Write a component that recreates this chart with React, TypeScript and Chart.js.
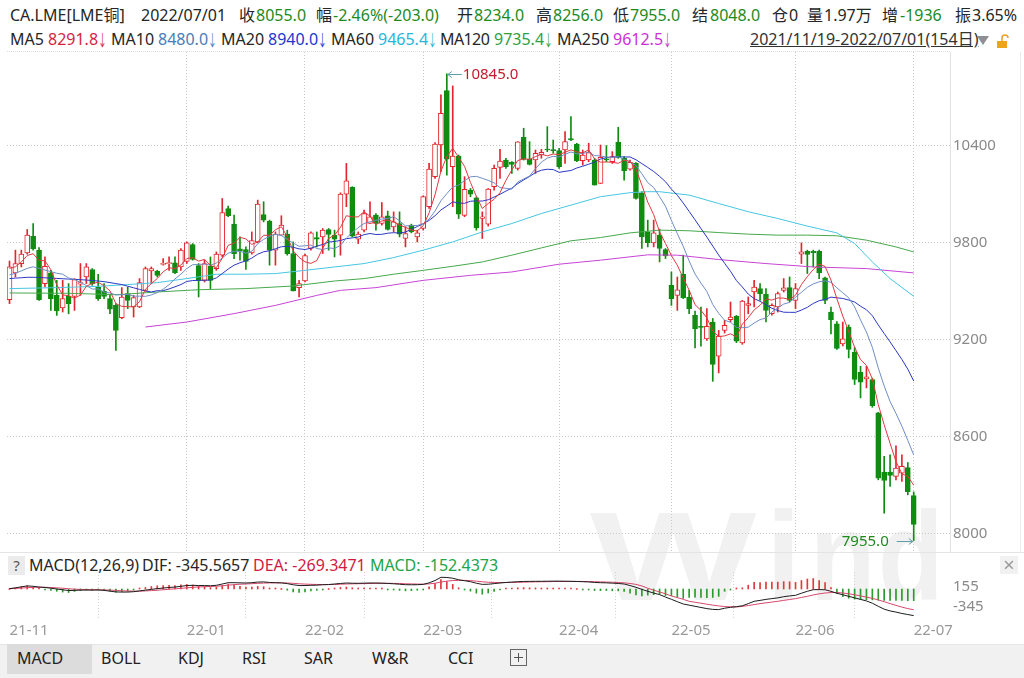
import React, { useEffect, useRef } from "react";
import { Chart, registerables } from "chart.js";
Chart.register(...registerables);

const FONT = '"Noto Sans", "Noto Sans CJK SC", sans-serif';

// ---- candle data (154 trading days, 2021/11/19 - 2022/07/01) ----
const opens = [9446,9612,9670,9736,9839,9753,9546,9612,9473,9395,9469,9467,9542,9587,9633,9525,9498,9453,9411,9335,9484,9401,9401,9504,9624,9624,9665,9670,9674,9649,9684,9788,9657,9566,9653,9639,9722,10011,9914,9761,9757,9736,9804,9974,9933,9753,9846,9852,9732,9521,9562,9763,9831,9835,9881,9846,9846,10100,10142,9821,9877,9918,9970,9918,9966,9897,9918,9825,9908,9835,9887,10022,10208,10404,10741,10270,10336,9968,10125,10077,9949,9914,10146,10266,10311,10297,10259,10452,10317,10311,10342,10377,10373,10369,10373,10444,10410,10307,10311,10311,10166,10319,10301,10421,10322,10255,10290,10108,9866,9798,9846,9757,9535,9473,9604,9463,9349,9281,9204,9308,9096,9256,9322,9343,9179,9411,9494,9515,9480,9359,9401,9504,9521,9442,9728,9746,9746,9746,9581,9370,9297,9173,9277,9121,8997,8956,8952,8745,8379,8379,8352,8372,8407,8234];
const highs = [9686,9753,9753,9881,9918,9769,9711,9628,9566,9566,9546,9577,9670,9670,9639,9604,9546,9473,9422,9521,9525,9473,9577,9649,9649,9628,9701,9711,9711,9763,9804,9794,9670,9691,9711,9742,10073,10026,9970,9835,9773,9866,10063,10053,9939,9866,9966,9877,9804,9566,9728,9866,9866,9887,9887,9877,10108,10290,10146,9866,10001,10053,9980,10048,9995,9990,9990,9897,9914,9877,10090,10290,10419,10715,10845,10770,10342,10208,10135,10084,9990,10135,10280,10377,10322,10301,10425,10508,10425,10373,10377,10518,10435,10384,10487,10580,10415,10373,10415,10322,10404,10400,10363,10514,10332,10311,10295,10115,9939,9939,9883,9763,9618,9587,9722,9504,9376,9401,9391,9330,9256,9318,9432,9349,9442,9463,9566,9546,9515,9420,9494,9577,9587,9546,9798,9753,9753,9753,9587,9401,9310,9308,9290,9150,9034,9034,8960,8749,8476,8486,8542,8486,8438,8256];
const lows = [9422,9587,9649,9728,9753,9442,9525,9380,9349,9370,9359,9380,9473,9546,9535,9442,9453,9359,9132,9328,9391,9339,9397,9500,9546,9587,9660,9628,9608,9628,9670,9691,9463,9556,9515,9628,9711,9960,9701,9691,9633,9728,9798,9928,9660,9660,9846,9722,9500,9463,9556,9753,9773,9732,9753,9711,9722,10022,9835,9794,9866,9918,9877,9908,9877,9866,9835,9773,9860,9804,9877,10011,10197,10239,10218,10022,9949,9960,10084,9877,9825,9902,10125,10197,10259,10228,10249,10311,10280,10228,10322,10363,10353,10259,10290,10431,10301,10280,10301,10156,10166,10301,10290,10322,10187,10249,10069,9763,9773,9773,9680,9701,9411,9380,9453,9359,9148,9159,9194,8941,8993,9240,9308,9180,9170,9359,9401,9442,9308,9350,9370,9494,9432,9391,9670,9608,9649,9577,9422,9235,9138,9160,9086,8921,8838,8900,8780,8331,8124,8290,8331,8321,8238,7955];
const closes = [9649,9670,9728,9846,9761,9446,9653,9453,9376,9453,9422,9571,9552,9649,9546,9453,9467,9388,9256,9463,9442,9459,9552,9639,9639,9597,9670,9674,9612,9753,9798,9695,9566,9670,9566,9728,9986,9966,9732,9749,9684,9813,10038,9939,9753,9852,9908,9732,9500,9546,9719,9860,9821,9877,9850,9821,10100,10183,9839,9852,9980,9960,9918,9960,9881,9928,9852,9856,9866,9860,10084,10255,10410,10601,10317,10336,9976,10129,10100,9891,9960,10131,10259,10305,10270,10284,10423,10315,10284,10353,10359,10373,10369,10270,10425,10435,10307,10342,10357,10156,10328,10311,10332,10328,10245,10297,10073,9835,9800,9860,9763,9718,9453,9508,9459,9391,9266,9275,9281,9045,9221,9287,9339,9190,9438,9422,9525,9484,9380,9411,9484,9519,9442,9515,9742,9726,9738,9612,9442,9322,9145,9204,9138,8952,8935,8968,8790,8341,8327,8358,8403,8414,8258,8055];

// ---- moving averages ----
const ma5 = [9640,9650,9680,9720,9731,9690,9687,9632,9538,9476,9471,9455,9475,9529,9548,9554,9533,9501,9422,9405,9403,9402,9434,9511,9546,9577,9619,9644,9638,9661,9701,9706,9685,9696,9659,9645,9703,9783,9796,9832,9823,9789,9803,9845,9845,9879,9898,9837,9749,9708,9681,9671,9689,9765,9825,9846,9894,9966,9959,9959,9991,9963,9910,9934,9940,9929,9908,9895,9877,9872,9904,9984,10095,10242,10333,10384,10328,10272,10172,10086,10011,10042,10068,10109,10185,10250,10308,10319,10315,10332,10347,10337,10348,10345,10359,10374,10361,10356,10373,10319,10298,10299,10297,10291,10309,10303,10255,10156,10050,9973,9866,9795,9719,9660,9580,9506,9415,9380,9334,9252,9218,9222,9235,9216,9295,9335,9383,9412,9450,9444,9457,9456,9447,9474,9540,9589,9633,9667,9652,9568,9452,9345,9250,9152,9075,9039,8957,8797,8672,8557,8444,8369,8352,8298];
const ma10 = [9600,9610,9625,9640,9650,9640,9630,9620,9610,9604,9581,9571,9553,9534,9512,9513,9494,9488,9476,9477,9479,9468,9468,9467,9476,9490,9511,9539,9575,9604,9639,9663,9664,9667,9660,9673,9705,9734,9746,9746,9734,9746,9793,9820,9839,9851,9843,9820,9797,9777,9780,9785,9763,9757,9767,9763,9783,9828,9862,9892,9918,9928,9938,9946,9949,9960,9935,9903,9905,9906,9917,9946,9995,10059,10103,10144,10156,10183,10207,10210,10198,10185,10170,10140,10136,10131,10175,10194,10212,10258,10298,10323,10334,10330,10346,10361,10349,10352,10359,10339,10336,10330,10326,10332,10314,10300,10277,10226,10171,10141,10084,10025,9937,9855,9777,9686,9605,9549,9497,9416,9362,9319,9307,9275,9273,9276,9302,9323,9333,9370,9396,9419,9430,9462,9492,9523,9544,9557,9563,9554,9520,9489,9458,9402,9321,9246,9151,9024,8912,8816,8742,8663,8575,8485];
const ma20 = [9577,9580,9582,9585,9585,9584,9582,9580,9578,9576,9574,9572,9570,9568,9565,9562,9558,9552,9546,9540,9530,9520,9510,9500,9494,9502,9502,9513,9526,9540,9559,9565,9566,9567,9568,9581,9608,9636,9660,9675,9686,9704,9728,9743,9749,9762,9774,9777,9771,9761,9757,9765,9778,9788,9803,9807,9813,9824,9829,9834,9849,9856,9850,9851,9858,9861,9859,9865,9883,9899,9917,9937,9966,10002,10026,10052,10045,10043,10056,10058,10057,10065,10082,10099,10119,10137,10165,10188,10209,10234,10248,10254,10252,10235,10241,10246,10262,10273,10285,10298,10317,10326,10330,10331,10330,10330,10313,10289,10265,10240,10210,10177,10131,10093,10045,9993,9941,9887,9834,9778,9723,9672,9622,9565,9525,9481,9453,9436,9415,9393,9379,9369,9368,9368,9382,9399,9423,9440,9448,9462,9458,9454,9444,9432,9406,9384,9347,9290,9237,9185,9131,9076,9016,8943];
const ma60Idx = [0,8,15,20,25,30,35,40,45,50,55,60,65,70,75,80,85,90,95,100,105,108,110,115,120,125,130,135,140,143,146,149,153];
const ma60Val = [9515,9521,9529,9540,9552,9577,9604,9604,9608,9628,9649,9670,9707,9753,9804,9866,9918,9980,10032,10084,10109,10115,10115,10094,10042,9991,9949,9902,9860,9794,9680,9577,9467];
const ma120Idx = [0,10,18,25,32,40,48,55,60,65,70,75,80,85,90,95,100,105,110,115,120,125,130,135,140,145,150,153];
const ma120Val = [9488,9486,9477,9494,9508,9515,9531,9562,9577,9604,9628,9653,9680,9722,9767,9811,9831,9860,9877,9873,9862,9852,9846,9846,9842,9815,9773,9742];
const ma250Idx = [23,30,38,45,52,56,62,70,78,85,93,100,108,113,120,128,136,145,153];
const ma250Val = [9277,9308,9360,9411,9473,9504,9521,9566,9597,9618,9666,9691,9724,9722,9695,9670,9649,9639,9612];

// ---- MACD(12,26,9) ----
const dif = [5,15,28,40,35,25,20,10,0,-10,-20,-18,-15,-14,-15,-12,-18,-28,-38,-40,-40,-35,-25,-15,-5,5,12,20,25,35,45,48,45,45,42,48,65,82,82,80,78,82,90,92,85,82,80,70,55,45,45,48,50,55,58,65,72,78,75,74,76,78,78,76,72,68,62,56,55,56,60,80,110,152,150,140,120,108,95,75,60,62,70,78,85,90,95,98,99,100,100,101,102,102,101,100,98,95,92,85,82,80,76,72,65,45,22,-5,-30,-52,-73,-105,-134,-165,-195,-210,-225,-240,-255,-265,-268,-250,-238,-230,-218,-190,-160,-148,-135,-125,-115,-100,-90,-82,-55,-30,-9,-8,-10,-30,-55,-75,-95,-115,-135,-155,-185,-225,-262,-285,-300,-318,-332,-346];
const dea = [5,8,12,18,22,23,22,20,15,10,3,-2,-5,-7,-9,-10,-12,-14,-18,-23,-26,-28,-28,-25,-21,-16,-10,-4,2,8,15,22,27,30,33,36,42,50,57,62,65,69,73,77,79,80,80,78,74,68,64,61,59,58,58,59,62,65,67,69,70,72,73,74,74,73,71,68,66,64,63,66,75,90,102,110,112,112,109,102,94,88,85,84,84,85,87,89,91,93,94,95,97,98,98,98,98,98,97,95,93,90,88,84,80,72,60,40,10,-15,-39,-62,-91,-112,-134,-160,-172,-185,-198,-210,-220,-228,-232,-233,-226,-215,-203,-190,-180,-170,-160,-148,-137,-125,-110,-95,-77,-63,-52,-46,-45,-52,-62,-75,-90,-105,-122,-142,-165,-190,-213,-235,-255,-269];
const macdHist = [0,14,32,44,26,4,-4,-20,-30,-40,-46,-32,-20,-14,-12,-4,-12,-28,-40,-34,-28,-14,6,20,32,42,44,48,46,54,60,52,36,30,18,24,46,64,50,36,26,26,34,30,12,4,0,-16,-38,-46,-38,-26,-18,-6,0,12,20,26,16,10,12,12,10,4,-4,-10,-18,-24,-22,-16,-6,28,70,124,96,60,16,-8,-28,-54,-68,-52,-30,-12,2,10,16,18,16,14,12,12,10,8,6,4,0,-6,-10,-20,-22,-20,-24,-24,-30,-54,-76,-90,-80,-74,-68,-86,-86,-106,-122,-110,-106,-110,-114,-110,-96,-30,-10,6,16,50,86,84,90,90,90,96,94,86,110,130,136,110,84,20,-60,-100,-120,-130,-136,-140,-142,-145,-148,-150,-150,-150,-152,-152];

// ---- axes ----
const priceTicks = [8000, 8600, 9200, 9800, 10400];
const monthIdx = [30, 50, 70, 93, 112, 133, 153];
const axisTickIdx = [0, 30, 50, 70, 93, 112, 133, 153];
const axisTickLabels = ["21-11", "22-01", "22-02", "22-03", "22-04", "22-05", "22-06", "22-07"];
const macdTicks = [155, -345];

const UP = "#e3262e";
const DOWN = "#108c10";
const DARK = "#262626";
const GREEN = "#1d8a1d";
const X_MIN = -0.423;
const X_MAX = 159.14;
const IDX = closes.map((_, i) => i);

function lineDs(label: string, xs: number[], ys: number[], color: string) {
  return {
    type: "line" as const,
    label,
    data: xs.map((x, k) => ({ x, y: ys[k] })),
    borderColor: color,
    borderWidth: 1,
    pointRadius: 0,
    tension: 0,
    fill: false,
    order: -1,
  };
}

const noPad = (s: any) => {
  s.paddingTop = 0;
  s.paddingBottom = 0;
};

const markPlugin = {
  id: "hiLoMarks",
  afterDatasetsDraw(chart: any) {
    const { ctx, scales } = chart;
    const x = scales.x;
    const y = scales.y;
    let hi = 0;
    let lo = 0;
    highs.forEach((v, i) => { if (v > highs[hi]) hi = i; });
    lows.forEach((v, i) => { if (v < lows[lo]) lo = i; });
    ctx.save();
    ctx.font = `15px ${FONT}`;
    ctx.textBaseline = "middle";
    ctx.lineWidth = 1;
    ctx.strokeStyle = "#5d9ea8";
    const hx = x.getPixelForValue(hi);
    const hy = Math.round(y.getPixelForValue(highs[hi])) + 0.5;
    ctx.beginPath();
    ctx.moveTo(hx + 1, hy); ctx.lineTo(hx + 15, hy);
    ctx.moveTo(hx + 1, hy); ctx.lineTo(hx + 5, hy - 3);
    ctx.moveTo(hx + 1, hy); ctx.lineTo(hx + 5, hy + 3);
    ctx.stroke();
    ctx.fillStyle = "#c41a2c";
    ctx.textAlign = "left";
    ctx.fillText(highs[hi].toFixed(1), hx + 16, hy);
    const lx = x.getPixelForValue(lo);
    const ly = Math.round(y.getPixelForValue(lows[lo])) + 0.5;
    ctx.beginPath();
    ctx.moveTo(lx - 17, ly); ctx.lineTo(lx - 1, ly);
    ctx.moveTo(lx - 1, ly); ctx.lineTo(lx - 5, ly - 3);
    ctx.moveTo(lx - 1, ly); ctx.lineTo(lx - 5, ly + 3);
    ctx.stroke();
    ctx.fillStyle = GREEN;
    ctx.textAlign = "right";
    ctx.fillText(lows[lo].toFixed(1), lx - 25, ly);
    ctx.restore();
  },
};

function mainConfig(): any {
  return {
    type: "bar",
    data: {
      datasets: [
        lineDs("MA5", IDX, ma5, "#e0393f"),
        lineDs("MA10", IDX, ma10, "#6d8ec4"),
        lineDs("MA20", IDX, ma20, "#2a38c2"),
        lineDs("MA60", ma60Idx, ma60Val, "#47c6e2"),
        lineDs("MA120", ma120Idx, ma120Val, "#46a84c"),
        lineDs("MA250", ma250Idx, ma250Val, "#c744d6"),
        {
          type: "bar",
          label: "body",
          data: IDX.map((i) => ({ x: i, y: [opens[i], closes[i]] })),
          backgroundColor: IDX.map((i) => (closes[i] >= opens[i] ? "#ffffff" : DOWN)),
          borderColor: IDX.map((i) => (closes[i] >= opens[i] ? UP : DOWN)),
          borderWidth: 1,
          borderSkipped: false,
          barThickness: 5,
          minBarLength: 1,
          grouped: false,
          order: 1,
        },
        {
          type: "bar",
          label: "wick",
          data: IDX.map((i) => ({ x: i, y: [lows[i], highs[i]] })),
          backgroundColor: IDX.map((i) => (closes[i] >= opens[i] ? UP : DOWN)),
          barThickness: 1,
          grouped: false,
          order: 2,
        },
      ],
    },
    options: {
      animation: false,
      responsive: false,
      maintainAspectRatio: false,
      devicePixelRatio: 1,
      events: [],
      layout: { padding: { left: 7, top: 0, right: 0, bottom: 0 } },
      plugins: { legend: { display: false }, tooltip: { enabled: false } },
      scales: {
        x: {
          type: "linear",
          min: X_MIN,
          max: X_MAX,
          offset: false,
          afterBuildTicks: (a: any) => { a.ticks = monthIdx.map((v) => ({ value: v })); },
          ticks: { display: false },
          grid: { color: "#c9c9c9", drawTicks: false, offset: false },
          border: { display: false, dash: [1, 2] },
          afterFit: (s: any) => { s.height = 0; s.paddingLeft = 0; s.paddingRight = 0; },
        },
        y: {
          type: "linear",
          position: "right",
          min: 7884,
          max: 10980,
          afterBuildTicks: (a: any) => { a.ticks = priceTicks.map((v) => ({ value: v })); },
          ticks: { color: "#8a8a8a", font: { size: 15, family: FONT }, padding: 3, callback: (v: number) => String(v) },
          grid: { color: "#c9c9c9", drawTicks: false },
          border: { display: true, color: "#e2e2e2", dash: [1, 2] },
          afterFit: (s: any) => { s.width = 74; noPad(s); },
        },
      },
    },
    plugins: [markPlugin],
  };
}

function macdConfig(): any {
  return {
    type: "bar",
    data: {
      datasets: [
        { type: "line", label: "DIF", data: IDX.map((i) => ({ x: i, y: dif[i] })), borderColor: "#1c1c1c", borderWidth: 1, pointRadius: 0, order: -2 },
        { type: "line", label: "DEA", data: IDX.map((i) => ({ x: i, y: dea[i] })), borderColor: "#d8486c", borderWidth: 1, pointRadius: 0, order: -1 },
        {
          type: "bar",
          label: "MACD",
          data: IDX.map((i) => ({ x: i, y: macdHist[i] })),
          backgroundColor: macdHist.map((v) => (v >= 0 ? "#e03a3a" : "#2b9b2b")),
          barThickness: 1,
          minBarLength: 1,
          grouped: false,
          order: 1,
        },
      ],
    },
    options: {
      animation: false,
      responsive: false,
      maintainAspectRatio: false,
      devicePixelRatio: 1,
      events: [],
      layout: { padding: { left: 7, top: 2, right: 0, bottom: 0 } },
      plugins: { legend: { display: false }, tooltip: { enabled: false } },
      scales: {
        x: {
          type: "linear",
          min: X_MIN,
          max: X_MAX,
          offset: false,
          afterBuildTicks: (a: any) => { a.ticks = axisTickIdx.map((v) => ({ value: v })); },
          ticks: {
            callback: (v: number) => axisTickLabels[axisTickIdx.indexOf(v)] ?? "",
            align: "start",
            color: "#9a9a9a",
            font: { size: 15, family: FONT },
            padding: 2,
            maxRotation: 0,
            autoSkip: false,
          },
          grid: { color: (c: any) => (c.tick && c.tick.value === 0 ? "rgba(0,0,0,0)" : "#d2d2d2"), drawTicks: false },
          border: { display: false, dash: [1, 2] },
          afterFit: (s: any) => { s.height = 24; s.paddingLeft = 0; },
        },
        y: { type: "linear", display: false, min: -403, max: 221 },
        yl: {
          type: "linear",
          position: "right",
          min: -670,
          max: 530,
          afterBuildTicks: (a: any) => { a.ticks = macdTicks.map((v) => ({ value: v })); },
          ticks: { color: "#8a8a8a", font: { size: 15, family: FONT }, padding: 3 },
          grid: { display: false, drawTicks: false },
          border: { display: false },
          afterFit: (s: any) => { s.width = 74; noPad(s); },
        },
      },
    },
  };
}

type Seg = [number, string, string];
const row1: Seg[] = [
  [10, "CA.LME[LME铜]", DARK], [141, "2022/07/01", DARK],
  [239, "收", DARK], [256, "8055.0", GREEN],
  [316, "幅", DARK], [333, "-2.46%(-203.0)", GREEN],
  [457, "开", DARK], [474, "8234.0", GREEN],
  [536, "高", DARK], [553, "8256.0", GREEN],
  [613, "低", DARK], [630, "7955.0", GREEN],
  [692, "结", DARK], [710, "8048.0", GREEN],
  [772, "仓", DARK], [789, "0", DARK],
  [807, "量", DARK], [824, "1.97万", DARK],
  [882, "增", DARK], [900, "-1936", GREEN],
  [955, "振", DARK], [972, "3.65%", DARK],
];
const row2: Seg[] = [
  [10, "MA5", DARK], [48, "8291.8", "#d61f3d"],
  [111, "MA10", DARK], [158, "8480.0", "#4a7cb6"],
  [221, "MA20", DARK], [268, "8940.0", "#2136cf"],
  [331, "MA60", DARK], [378, "9465.4", "#25b6da"],
  [440, "MA120", DARK], [494, "9735.4", "#2f9f3f"],
  [557, "MA250", DARK], [613, "9612.5", "#cc30d8"],
];
const arrows: [number, string][] = [
  [98, "#d61f3d"], [208, "#4a7cb6"], [318, "#2136cf"], [428, "#25b6da"], [544, "#2f9f3f"], [663, "#cc30d8"],
];
const macdRow: Seg[] = [
  [29, "MACD(12,26,9)", DARK],
  [142, "DIF: -345.5657", DARK],
  [253, "DEA: -269.3471", "#cf1b3f"],
  [370, "MACD: -152.4373", "#22a548"],
];
const tabs: [number, string][] = [
  [17, "MACD"], [101, "BOLL"], [178, "KDJ"], [242, "RSI"], [304, "SAR"], [372, "W&R"], [448, "CCI"],
];

const abs = (s: React.CSSProperties): React.CSSProperties => ({ position: "absolute", ...s });

function Segs({ items, top }: { items: Seg[]; top: number }) {
  return (
    <>
      {items.map(([left, text, color]) => (
        <span key={`${top}-${left}`} style={abs({ left, top, color, whiteSpace: "nowrap", fontSize: 16, lineHeight: "22px", letterSpacing: text.startsWith("MA1") && text.length > 4 ? "-0.6px" : undefined })}>
          {text}
        </span>
      ))}
    </>
  );
}

const wmStyle = (left: number, sx: number): React.CSSProperties =>
  abs({
    left,
    top: 494,
    fontSize: 126,
    lineHeight: "126px",
    fontWeight: 700,
    fontFamily: '"Liberation Sans", sans-serif',
    color: "#f1f1f1",
    whiteSpace: "nowrap",
    transform: `scaleX(${sx})`,
    transformOrigin: "left top",
  });

export default function App() {
  const mainRef = useRef<HTMLCanvasElement>(null);
  const macdRef = useRef<HTMLCanvasElement>(null);

  useEffect(() => {
    Chart.defaults.font.family = FONT;
    const main = new Chart(mainRef.current as HTMLCanvasElement, mainConfig());
    const macd = new Chart(macdRef.current as HTMLCanvasElement, macdConfig());
    return () => {
      main.destroy();
      macd.destroy();
    };
  }, []);

  return (
    <div style={abs({ left: 0, top: 0, width: 1024, height: 678, background: "#ffffff", overflow: "hidden", fontFamily: FONT })}>
      {/* watermark */}
      <div style={wmStyle(590, 1.4)}>W</div>
      <div style={wmStyle(766, 1)}>i</div>
      <div style={wmStyle(810, 0.85)}>n</div>
      <div style={wmStyle(878, 0.85)}>d</div>

      {/* header */}
      <Segs items={row1} top={4} />
      <Segs items={row2} top={28} />
      {arrows.map(([left, color]) => (
        <span key={`a${left}`} style={abs({ left, top: 28, color, fontSize: 16, lineHeight: "22px", fontFamily: '"Noto Sans CJK SC", sans-serif', transform: "scaleX(0.55)", transformOrigin: "left center" })}>
          ↓
        </span>
      ))}
      <span style={abs({ left: 750, top: 28, fontSize: 16, lineHeight: "22px", color: "#333", textDecoration: "underline", whiteSpace: "nowrap" })}>
        2021/11/19-2022/07/01(154日)
      </span>
      <div style={abs({ left: 977, top: 36, width: 0, height: 0, borderLeft: "6px solid transparent", borderRight: "6px solid transparent", borderTop: "9px solid #8f8f8f" })} />
      <svg style={abs({ left: 996, top: 33 })} width="14" height="16" viewBox="0 0 14 16">
        <path d="M6 8 V5 a3 3 0 0 1 6 0" fill="none" stroke="#f0a21e" strokeWidth="1.6" />
        <rect x="1" y="8" width="10" height="7" fill="#f0a21e" />
      </svg>

      {/* main panel frame */}
      <div style={abs({ left: 7, top: 51, width: 943, height: 0, borderTop: "1px dotted #dddddd" })} />
      <div style={abs({ left: 1020, top: 52, width: 1, height: 500, background: "#ececec" })} />
      <canvas ref={mainRef} width={1024} height={500} style={abs({ left: 0, top: 52, display: "block" })} />
      <div style={abs({ left: 0, top: 552, width: 1024, height: 1, background: "#e4e4e4" })} />

      {/* MACD header */}
      <div style={abs({ left: 8, top: 556, width: 17, height: 19, background: "#ebebeb", color: "#555", fontSize: 15, lineHeight: "19px", textAlign: "center" })}>?</div>
      <Segs items={macdRow} top={554} />
      <div style={abs({ left: 1000, top: 556, width: 18, height: 18, background: "#f1f1f1", color: "#9a9a9a", fontSize: 20, lineHeight: "18px", textAlign: "center" })}>×</div>

      <canvas ref={macdRef} width={1024} height={74} style={abs({ left: 0, top: 570, display: "block" })} />

      {/* indicator tabs */}
      <div style={abs({ left: 0, top: 644, width: 1024, height: 34, background: "#f1f1f1", borderTop: "1px solid #e6e6e6" })} />
      <div style={abs({ left: 7, top: 644, width: 85, height: 30, background: "#dcdcdc" })} />
      {tabs.map(([left, t]) => (
        <span key={t} style={abs({ left, top: 647, fontSize: 16, lineHeight: "22px", color: "#222", whiteSpace: "nowrap" })}>{t}</span>
      ))}
      <div style={abs({ left: 510, top: 649, width: 17, height: 17, border: "1px solid #666", boxSizing: "border-box" })}>
        <div style={abs({ left: 3, top: 7, width: 9, height: 1, background: "#555" })} />
        <div style={abs({ left: 7, top: 3, width: 1, height: 9, background: "#555" })} />
      </div>
    </div>
  );
}
